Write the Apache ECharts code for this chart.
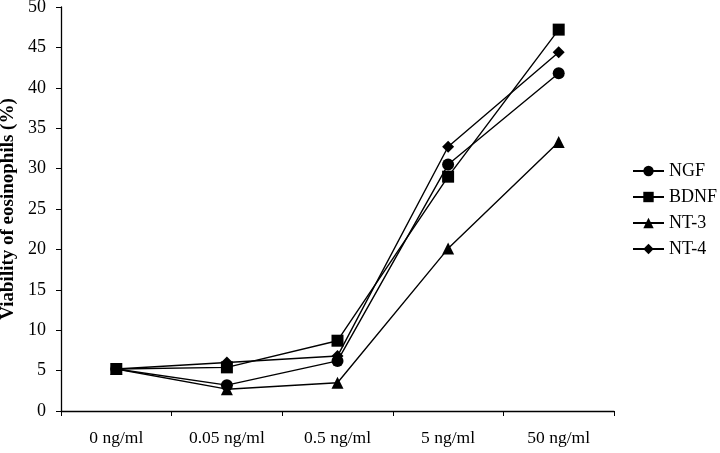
<!DOCTYPE html>
<html>
<head>
<meta charset="utf-8">
<script src="https://cdn.jsdelivr.net/npm/echarts@6/dist/echarts.min.js"></script>
<style>html,body{margin:0;padding:0;background:#fff}#c{width:720px;height:453px}</style>
</head>
<body>
<div id="c"></div>
<script>
const categories = ['0 ng/ml', '0.05 ng/ml', '0.5 ng/ml', '5 ng/ml', '50 ng/ml'];
const ngf  = [5.2, 3.2, 6.2, 30.5, 41.8];
const bdnf = [5.2, 5.4, 8.7, 29.0, 47.2];
const nt3  = [5.2, 2.7, 3.5, 20.1, 33.3];
const nt4  = [5.2, 6.0, 6.8, 32.7, 44.4];
const yTicks = [0, 5, 10, 15, 20, 25, 30, 35, 40, 45, 50];

const font = '"Liberation Serif", "Times New Roman", serif';
function mk(name, data, symbol, size) {
  return {
    name, type: 'line', data, symbol, symbolSize: size,
    lineStyle: { color: '#000', width: 1.4 },
    itemStyle: { color: '#000' },
    emphasis: { disabled: true },
    animation: false
  };
}
const chart = echarts.init(document.getElementById('c'));
chart.setOption({
  backgroundColor: '#fff',
  animation: false,
  grid: { left: 61, right: 106, top: 7, bottom: 42, containLabel: false, outerBoundsMode: 'none' },
  legend: {
    orient: 'vertical', left: 632, top: 162, itemGap: 8, padding: 0,
    itemWidth: 31, itemHeight: 13,
    textStyle: { fontFamily: font, fontSize: 18, color: '#000' },
    data: ['NGF', 'BDNF', 'NT-3', 'NT-4']
  },
  xAxis: {
    type: 'category', data: categories, boundaryGap: true,
    axisLine: { lineStyle: { color: '#000', width: 1.3 } },
    axisTick: { show: true, length: 5, lineStyle: { color: '#000' } },
    axisLabel: { fontFamily: font, fontSize: 17.5, color: '#000', margin: 18 }
  },
  yAxis: {
    type: 'value', min: yTicks[0], max: yTicks[yTicks.length - 1], interval: 5,
    name: 'Viability of eosinophils (%)', nameLocation: 'middle', nameGap: 41,
    nameTextStyle: { fontFamily: font, fontSize: 19, fontWeight: 'bold', color: '#000' },
    splitLine: { show: false },
    axisLine: { show: true, lineStyle: { color: '#000', width: 1.3 } },
    axisTick: { show: true, length: 5, lineStyle: { color: '#000' } },
    axisLabel: { fontFamily: font, fontSize: 18, color: '#000', margin: 15 }
  },
  series: [
    mk('NGF', ngf, 'circle', 12),
    mk('BDNF', bdnf, 'rect', 12),
    mk('NT-3', nt3, 'triangle', 12),
    mk('NT-4', nt4, 'diamond', 12)
  ]
});
</script>
</body>
</html>
